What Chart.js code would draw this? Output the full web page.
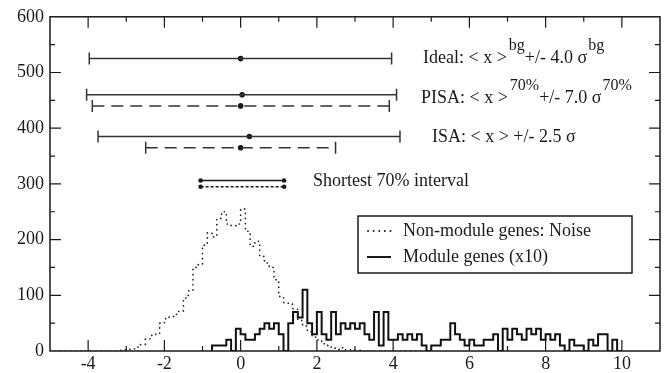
<!DOCTYPE html>
<html>
<head>
<meta charset="utf-8">
<script src="https://cdn.jsdelivr.net/npm/chart.js@4.4.1/dist/chart.umd.min.js"></script>
<style>
body { margin: 0; background: #fff; }
</style>
</head>
<body>
<canvas id="chart" width="669" height="373"></canvas>
<script>
// ===============================
// Data
// ===============================

const xTicks = [-4, -2, 0, 2, 4, 6, 8, 10];
const yTicks = [0, 100, 200, 300, 400, 500, 600];

const binWidth = 0.125;

// non-module genes (noise), dotted histogram
const noiseStart = -3.5;
const noiseCounts = [
    0, 0, 0, 1, 2, 3, 4, 7, 12, 22,
    28, 30, 50, 58, 62, 66, 72, 95, 108, 150,
    155, 190, 212, 205, 238, 250, 228, 225, 228, 255,
    215, 188, 197, 170, 158, 150, 128, 98, 87, 84,
    75, 55, 45, 35, 25, 20, 13, 10, 5, 3,
    6, 2, 2, 1, 1, 0
];

// module genes (x10), solid histogram
const moduleStart = -0.75;
const moduleCounts = [
    10, 10, 10, 10, 20, 0, 40, 30, 20, 20,
    30, 40, 50, 40, 50, 30, 0, 50, 70, 60,
    110, 50, 30, 70, 30, 20, 70, 30, 50, 40,
    50, 40, 50, 30, 20, 70, 10, 70, 20, 20,
    30, 20, 30, 20, 30, 10, 0, 10, 10, 20,
    20, 50, 30, 20, 10, 20, 10, 10, 20, 20,
    30, 0, 40, 20, 40, 30, 20, 40, 30, 40,
    20, 30, 20, 30, 10, 0, 20, 10, 10, 0,
    20, 10, 30, 30, 0, 20
];

// intervals: solid lines
const solidY = [525, 460, 385];
const solidLow = [-3.97, -4.04, -3.74];
const solidMid = [0, 0.04, 0.23];
const solidHigh = [3.96, 4.09, 4.18];

// intervals: dashed lines
const dashedY = [440, 365];
const dashedLow = [-3.89, -2.49];
const dashedMid = [0, 0];
const dashedHigh = [3.9, 2.49];

// shortest 70% intervals
const shortestY = [306, 295];
const shortestLow = [-1.05, -1.05];
const shortestHigh = [1.14, 1.14];

const legendLabels = ["Non-module genes: Noise", "Module genes (x10)"];

// ===============================
// Build datasets
// ===============================

const FONT = "Liberation Serif";
const INK = "#1a1a1a";

function stepPoints(start, counts, from, to){
    const pts = [];
    if(from !== undefined) pts.push({x: from, y: 0});
    pts.push({x: start, y: 0});
    counts.forEach(function(c, i){
        pts.push({x: start + i * binWidth, y: c});
    });
    pts.push({x: start + counts.length * binWidth, y: 0});
    if(to !== undefined) pts.push({x: to, y: 0});
    return pts;
}

function barSet(low, high, y, dash){
    return {
        type: "line",
        data: [{x: low, y: y}, {x: high, y: y}],
        borderColor: "#333",
        borderWidth: 1.5,
        borderDash: dash,
        pointStyle: "line",
        pointRotation: 90,
        pointRadius: 6,
        pointBorderWidth: 1.5,
        pointBorderColor: "#333"
    };
}

function shortSet(low, high, y, dash){
    return {
        type: "line",
        data: [{x: low, y: y}, {x: high, y: y}],
        borderColor: INK,
        borderWidth: 1.4,
        borderDash: dash,
        pointStyle: "circle",
        pointRadius: 2.3,
        pointBackgroundColor: INK,
        pointBorderColor: INK,
        pointBorderWidth: 0
    };
}

const datasets = [];

datasets.push({
    type: "line",
    data: stepPoints(noiseStart, noiseCounts, -5, 5),
    stepped: "after",
    borderColor: "#222",
    borderWidth: 1.7,
    borderDash: [0.1, 5],
    borderCapStyle: "round",
    pointRadius: 0,
    fill: false
});

datasets.push({
    type: "line",
    data: stepPoints(moduleStart, moduleCounts),
    stepped: "after",
    borderColor: "#111",
    borderWidth: 2,
    pointRadius: 0,
    fill: false
});

solidY.forEach(function(y, i){
    datasets.push(barSet(solidLow[i], solidHigh[i], y, []));
});
dashedY.forEach(function(y, i){
    datasets.push(barSet(dashedLow[i], dashedHigh[i], y, [12, 7]));
});

const mids = [];
solidY.forEach(function(y, i){ mids.push({x: solidMid[i], y: y}); });
dashedY.forEach(function(y, i){ mids.push({x: dashedMid[i], y: y}); });
datasets.push({
    type: "scatter",
    data: mids,
    pointStyle: "circle",
    pointRadius: 2.8,
    pointBackgroundColor: INK,
    pointBorderColor: INK,
    pointBorderWidth: 0
});

datasets.push(shortSet(shortestLow[0], shortestHigh[0], shortestY[0], []));
datasets.push(shortSet(shortestLow[1], shortestHigh[1], shortestY[1], [3, 2]));

// ===============================
// Frame, inward ticks, texts, legend
// ===============================

function richText(ctx, x, y, parts){
    parts.forEach(function(p){
        if(p.sup){
            ctx.font = "16px '" + FONT + "'";
            ctx.fillText(p.t, x, y - 13);
        }else{
            ctx.font = "18px '" + FONT + "'";
            ctx.fillText(p.t, x, y);
        }
        x += ctx.measureText(p.t).width + (p.gap || 0);
    });
}

const decor = {
    id: "decor",
    afterDraw: function(chart){
        const ctx = chart.ctx;
        const a = chart.chartArea;
        const xs = chart.scales.x;
        const ys = chart.scales.y;

        ctx.save();
        ctx.strokeStyle = INK;
        ctx.lineWidth = 1.5;
        ctx.strokeRect(a.left, a.top, a.right - a.left, a.bottom - a.top);

        ctx.lineWidth = 1.2;
        ctx.beginPath();
        for(let v = xs.min + 1; v < xs.max; v += 1){
            const len = xTicks.indexOf(v) >= 0 ? 11 : 5;
            const px = xs.getPixelForValue(v);
            ctx.moveTo(px, a.bottom); ctx.lineTo(px, a.bottom - len);
            ctx.moveTo(px, a.top); ctx.lineTo(px, a.top + len);
        }
        for(let v = ys.min + 50; v < ys.max; v += 50){
            const len = yTicks.indexOf(v) >= 0 ? 11 : 5;
            const py = ys.getPixelForValue(v);
            ctx.moveTo(a.left, py); ctx.lineTo(a.left + len, py);
            ctx.moveTo(a.right, py); ctx.lineTo(a.right - len, py);
        }
        ctx.stroke();

        // labels
        ctx.fillStyle = INK;
        ctx.textBaseline = "alphabetic";
        ctx.textAlign = "left";
        richText(ctx, 423, 63, [
            {t: "Ideal: < x >", gap: 2}, {t: "bg", sup: true},
            {t: "+/- 4.0 σ", gap: 1}, {t: "bg", sup: true}
        ]);
        richText(ctx, 421, 103, [
            {t: "PISA: < x >", gap: 2}, {t: "70%", sup: true},
            {t: "+/- 7.0 σ", gap: 1}, {t: "70%", sup: true}
        ]);
        richText(ctx, 432, 142, [{t: "ISA: < x > +/- 2.5 σ"}]);
        richText(ctx, 313, 186, [{t: "Shortest 70% interval"}]);

        // legend
        ctx.lineWidth = 1.5;
        ctx.strokeRect(358, 216, 274, 57);
        ctx.font = "18px '" + FONT + "'";
        ctx.textBaseline = "middle";
        ctx.fillText(legendLabels[0], 403, 231);
        ctx.fillText(legendLabels[1], 403, 257);

        ctx.lineWidth = 1.8;
        ctx.lineCap = "round";
        ctx.setLineDash([0.1, 5.5]);
        ctx.beginPath();
        ctx.moveTo(368, 231); ctx.lineTo(391, 231);
        ctx.stroke();
        ctx.setLineDash([]);
        ctx.lineCap = "butt";
        ctx.lineWidth = 2;
        ctx.beginPath();
        ctx.moveTo(367, 257); ctx.lineTo(391, 257);
        ctx.stroke();
        ctx.restore();
    }
};

// ===============================
// Chart
// ===============================

new Chart(document.getElementById("chart"), {
    type: "scatter",
    data: { datasets: datasets },
    plugins: [decor],
    options: {
        responsive: false,
        animation: false,
        layout: { padding: { top: 15, right: 9, left: 0, bottom: 0 } },
        plugins: {
            legend: { display: false },
            tooltip: { enabled: false }
        },
        elements: { line: { tension: 0 } },
        scales: {
            x: {
                type: "linear",
                min: -5,
                max: 11,
                afterBuildTicks: function(s){
                    s.ticks = xTicks.map(function(v){ return {value: v}; });
                },
                afterFit: function(s){ s.height = 22; },
                grid: { display: false, drawTicks: false },
                border: { display: false },
                ticks: {
                    padding: 2,
                    color: INK,
                    font: { family: FONT, size: 18 }
                }
            },
            y: {
                type: "linear",
                min: 0,
                max: 600,
                afterBuildTicks: function(s){
                    s.ticks = yTicks.map(function(v){ return {value: v}; });
                },
                afterFit: function(s){ s.width = 50; },
                grid: { display: false, drawTicks: false },
                border: { display: false },
                ticks: {
                    padding: 6,
                    color: INK,
                    font: { family: FONT, size: 18 }
                }
            }
        }
    }
});
</script>
</body>
</html>
